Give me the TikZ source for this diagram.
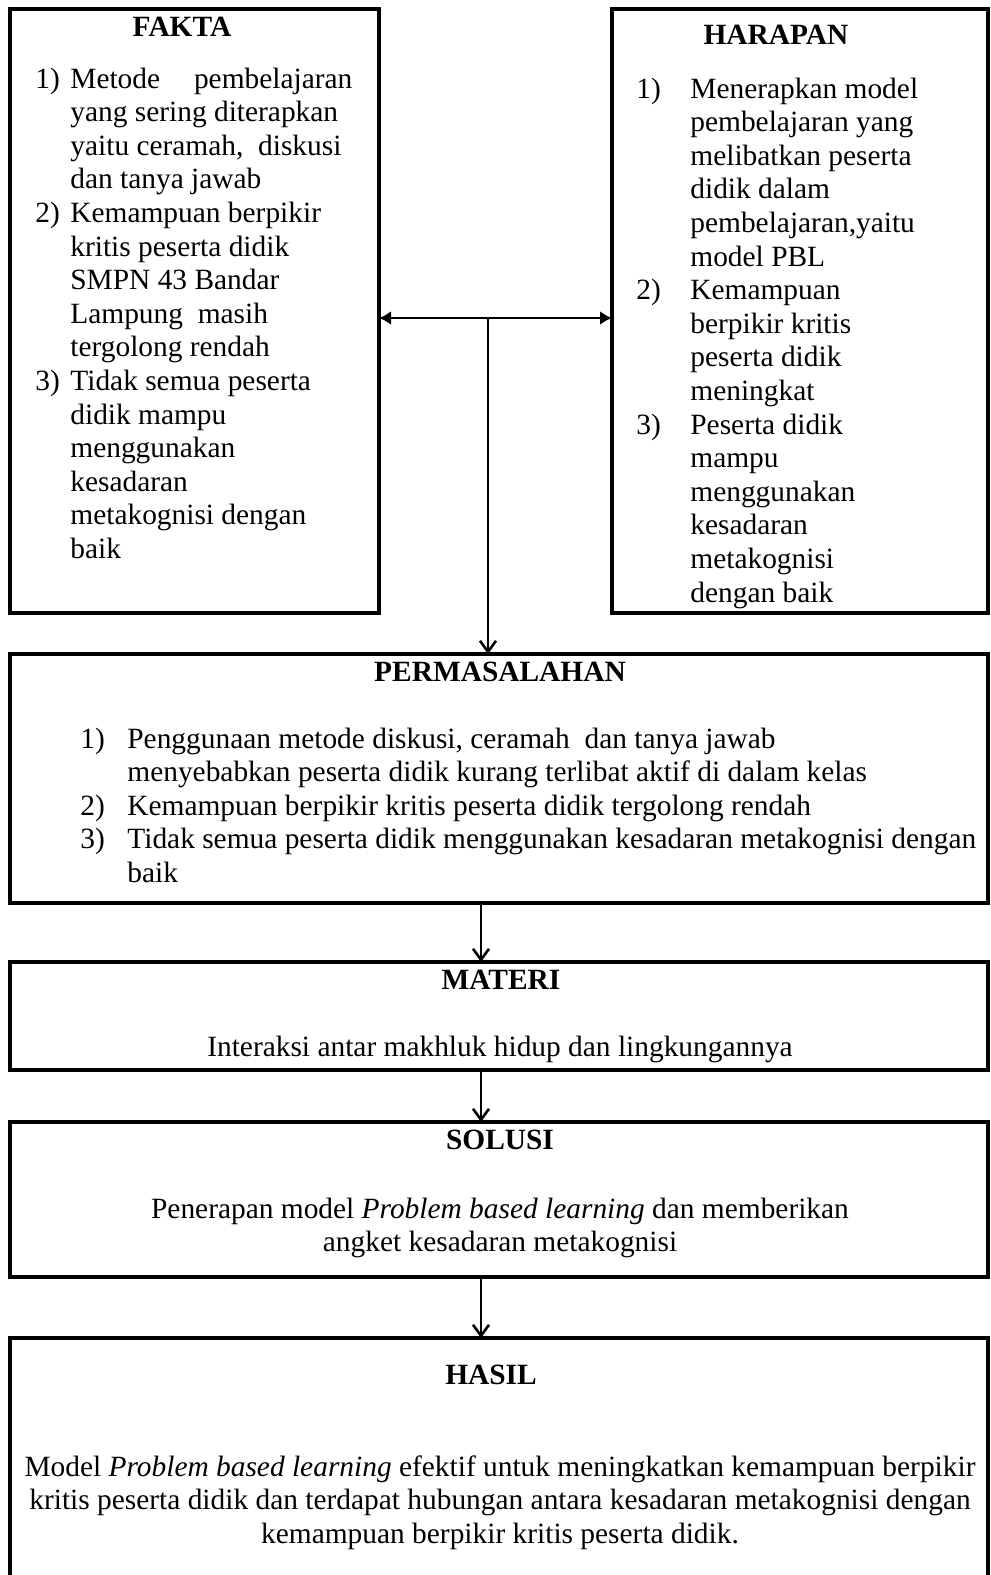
\documentclass[tikz,border=0pt]{standalone}
\usepackage{fontspec}
\setmainfont{Liberation Serif}
\usepackage{tikz}
\usetikzlibrary{arrows.meta, positioning, calc}

\begin{document}
\begin{tikzpicture}[x=0.5pt, y=-0.5pt,
  kotak/.style={draw, line width=2pt, rectangle, inner sep=0pt, outer sep=0pt, anchor=north west},
  judul/.style={font=\fontsize{14.7}{16.8}\selectfont\bfseries, anchor=base, inner sep=0pt},
  isi/.style={font=\fontsize{14.7}{16.8}\selectfont, inner sep=0pt},
  panah/.style={-{Straight Barb[length=5.5pt,width=8pt]}, line width=1.3pt},
  dua/.style={{Latex[length=6pt,width=7pt]}-{Latex[length=6pt,width=7pt]}, line width=1.3pt}]
\useasboundingbox (0,0) rectangle (991,1575);

\node[kotak, minimum width=184.5pt, minimum height=302pt] (fakta) at (10,9) {};
\node[kotak, minimum width=188pt, minimum height=302pt] (harapan) at (612,9) {};
\node[kotak, minimum width=489pt, minimum height=124.5pt] (masalah) at (10,654) {};
\node[kotak, minimum width=489pt, minimum height=54pt] (materi) at (10,962) {};
\node[kotak, minimum width=489pt, minimum height=77.5pt] (solusi) at (10,1122) {};
\node[kotak, minimum width=489pt, minimum height=135pt] (hasil) at (10,1338) {};

% fakta
\node[judul] (tfakta) at (182,36) {FAKTA};
\node[isi, anchor=base west] (lfakta) at (35,88) {\begin{tabular}[t]{@{}p{17.5pt}@{}l@{}}
1) & Metode\hspace{0.9em} pembelajaran\\
   & yang sering diterapkan\\
   & yaitu ceramah,\ \ diskusi\\
   & dan tanya jawab\\
2) & Kemampuan berpikir\\
   & kritis peserta didik\\
   & SMPN 43 Bandar\\
   & Lampung\ \ masih\\
   & tergolong rendah\\
3) & Tidak semua peserta\\
   & didik mampu\\
   & menggunakan\\
   & kesadaran\\
   & metakognisi dengan\\
   & baik
\end{tabular}};

% harapan
\node[judul] (tharapan) at (776,44) {HARAPAN};
\node[isi, anchor=base west] (lharapan) at (636,98) {\begin{tabular}[t]{@{}p{27pt}@{}l@{}}
1) & Menerapkan model\\
   & pembelajaran yang\\
   & melibatkan peserta\\
   & didik dalam\\
   & pembelajaran,yaitu\\
   & model PBL\\
2) & Kemampuan\\
   & berpikir kritis\\
   & peserta didik\\
   & meningkat\\
3) & Peserta didik\\
   & mampu\\
   & menggunakan\\
   & kesadaran\\
   & metakognisi\\
   & dengan baik
\end{tabular}};

% permasalahan
\node[judul] (tmasalah) at (500,681) {PERMASALAHAN};
\node[isi, anchor=base west] (lmasalah) at (80,748) {\begin{tabular}[t]{@{}p{23.5pt}@{}l@{}}
1) & Penggunaan metode diskusi, ceramah\ \ dan tanya jawab\\
   & menyebabkan peserta didik kurang terlibat aktif di dalam kelas\\
2) & Kemampuan berpikir kritis peserta didik tergolong rendah\\
3) & Tidak semua peserta didik menggunakan kesadaran metakognisi dengan\\
   & baik
\end{tabular}};

% materi
\node[judul] (tmateri) at (501,989) {MATERI};
\node[isi, anchor=base] (lmateri) at (500,1056) {Interaksi antar makhluk hidup dan lingkungannya};

% solusi
\node[judul] (tsolusi) at (500,1149) {SOLUSI};
\node[isi, anchor=base] (lsolusi) at (500,1218) {\begin{tabular}[t]{@{}c@{}}
Penerapan model \textit{Problem based learning} dan memberikan\\
angket kesadaran metakognisi
\end{tabular}};

% hasil
\node[judul] (thasil) at (491,1384) {HASIL};
\node[isi, anchor=base] (lhasil) at (500,1476) {\begin{tabular}[t]{@{}c@{}}
Model \textit{Problem based learning} efektif untuk meningkatkan kemampuan berpikir\\
kritis peserta didik dan terdapat hubungan antara kesadaran metakognisi dengan\\
kemampuan berpikir kritis peserta didik.
\end{tabular}};

% panah
\coordinate (simpang) at (488,318);
\coordinate (poros) at (481,0);
\draw[dua] (simpang -| fakta.east) -- (simpang -| harapan.west);
\draw[panah] (simpang) -- (simpang |- masalah.north);
\draw[panah] (poros |- masalah.south) -- (poros |- materi.north);
\draw[panah] (poros |- materi.south) -- (poros |- solusi.north);
\draw[panah] (poros |- solusi.south) -- (poros |- hasil.north);
\end{tikzpicture}
\end{document}
